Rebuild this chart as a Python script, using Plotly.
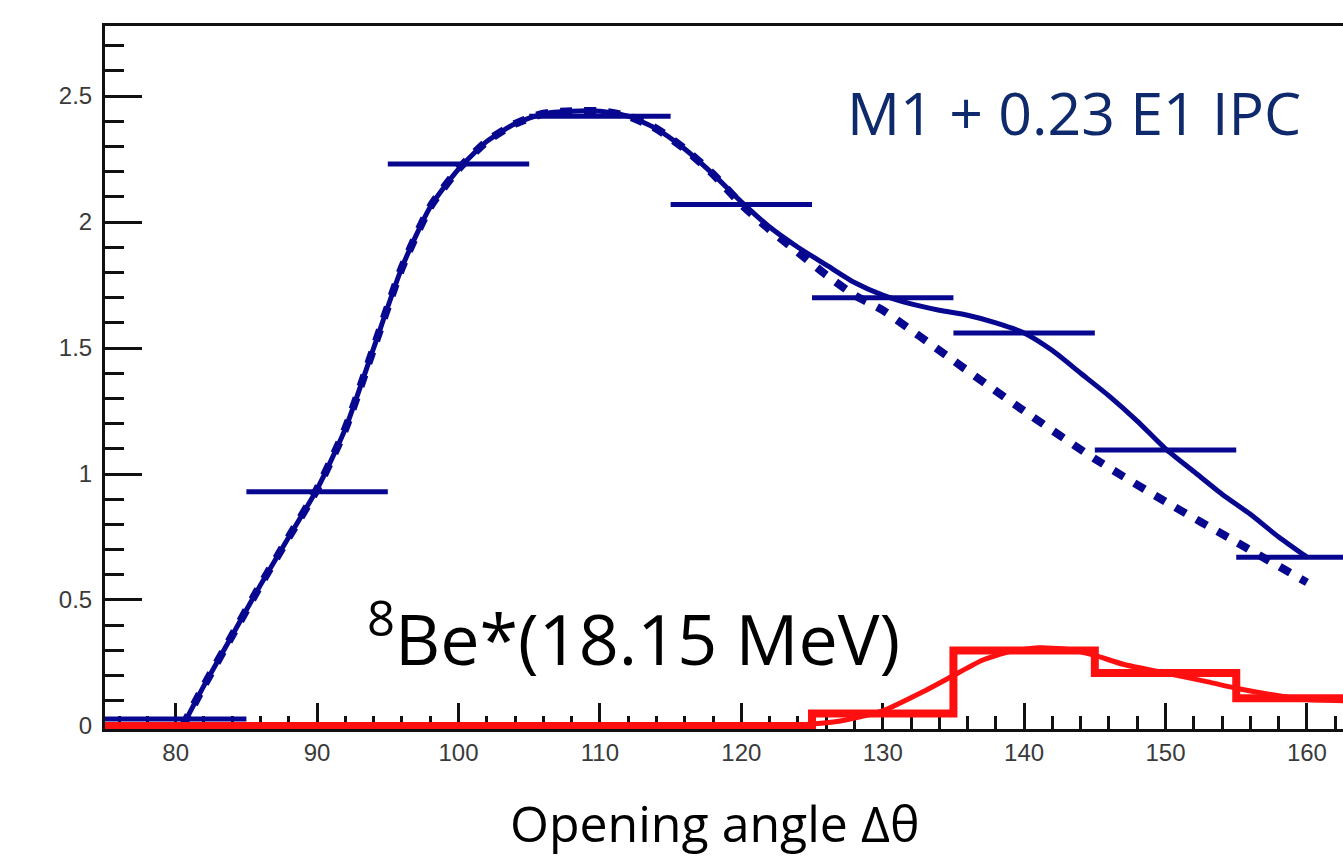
import plotly.graph_objects as go

# Opening-angle bins (degrees) and measured-style histograms
bin_centers = [80, 90, 100, 110, 120, 130, 140, 150, 160]
bin_half_width = 5
ipc_hist = [0.028, 0.93, 2.23, 2.42, 2.07, 1.70, 1.56, 1.095, 0.67]

# Signal histogram (8Be* 18.15 MeV), step edges
sig_edges = [75, 85, 95, 105, 115, 125, 135, 145, 155, 165]
sig_hist = [0.0, 0.0, 0.0, 0.0, 0.0, 0.05, 0.30, 0.21, 0.11]

# M1 + 0.23 E1 IPC simulation curve
ipc_x = [80.5, 82, 84, 86, 88, 90, 92, 94, 96, 98, 100, 102, 104, 106, 108, 110,
         112, 114, 116, 118, 120, 122, 124, 126, 128, 130, 132, 134, 136, 138,
         140, 142, 144, 146, 148, 150, 152, 154, 156, 158, 160]
ipc_y = [0.0, 0.16, 0.36, 0.56, 0.75, 0.94, 1.18, 1.50, 1.82, 2.06, 2.21, 2.32, 2.39,
         2.43, 2.44, 2.44, 2.42, 2.37, 2.29, 2.19, 2.08, 1.98, 1.90, 1.83, 1.76, 1.71,
         1.675, 1.65, 1.63, 1.60, 1.56, 1.49, 1.40, 1.31, 1.21, 1.10, 1.01, 0.92,
         0.84, 0.75, 0.67]

# Pure M1 curve (dashed)
m1_x = [80.5, 82, 84, 86, 88, 90, 92, 94, 96, 98, 100, 102, 104, 106, 108, 110,
        112, 114, 116, 118, 120, 122, 124, 126, 128, 130, 135, 140, 145, 150, 155, 160]
m1_y = [0.0, 0.16, 0.36, 0.56, 0.75, 0.94, 1.18, 1.50, 1.82, 2.06, 2.21, 2.32, 2.39,
        2.43, 2.44, 2.44, 2.42, 2.37, 2.29, 2.19, 2.07, 1.97, 1.88, 1.79, 1.71, 1.65,
        1.45, 1.25, 1.06, 0.89, 0.73, 0.57]

# Signal fit curve
sig_x = [75, 110, 122, 125, 127, 130, 133, 135, 137, 139, 141, 143, 145, 147, 150,
         153, 155, 158, 160, 163]
sig_y = [0.0, 0.0, 0.0, 0.008, 0.02, 0.06, 0.14, 0.20, 0.26, 0.295, 0.31, 0.305,
         0.28, 0.245, 0.21, 0.175, 0.15, 0.12, 0.105, 0.10]

BLUE = "#07078f"
RED = "#ff1010"

fig = go.Figure()

# IPC histogram drawn as horizontal bin bars
fig.add_trace(go.Scatter(
    x=bin_centers, y=ipc_hist, mode="markers",
    marker=dict(size=1, color=BLUE),
    error_x=dict(type="constant", value=bin_half_width, color=BLUE,
                 thickness=5, width=0),
    showlegend=False,
))

fig.add_trace(go.Scatter(
    x=m1_x, y=m1_y, mode="lines",
    line=dict(color=BLUE, width=8, dash="12px,12px", shape="spline", smoothing=0.6),
    showlegend=False,
))

fig.add_trace(go.Scatter(
    x=ipc_x, y=ipc_y, mode="lines",
    line=dict(color=BLUE, width=5, shape="spline", smoothing=0.6),
    showlegend=False,
))

# Signal histogram as a step line
fig.add_trace(go.Scatter(
    x=sig_edges, y=sig_hist + [sig_hist[-1]], mode="lines",
    line=dict(color=RED, width=8, shape="hv"),
    showlegend=False,
))

fig.add_trace(go.Scatter(
    x=sig_x, y=sig_y, mode="lines",
    line=dict(color=RED, width=5, shape="spline", smoothing=0.6),
    showlegend=False,
))

fig.add_annotation(
    x=143.5, y=2.437, xref="x", yref="y", text="M1 + 0.23 E1 IPC",
    showarrow=False, xanchor="center", yanchor="middle",
    font=dict(family="Open Sans", size=59, color="#0f2a6c"),
)
fig.add_annotation(
    x=112.4, y=0.36, xref="x", yref="y", text="<sup>8</sup>Be*(18.15 MeV)",
    showarrow=False, xanchor="center", yanchor="middle",
    font=dict(family="Open Sans", size=70, color="#000000"),
)
fig.add_annotation(
    x=0.492, y=0, xref="paper", yref="paper", yshift=-94,
    text="Opening angle Δθ", showarrow=False, xanchor="center", yanchor="middle",
    font=dict(family="Open Sans", size=50, color="#000000"),
)

tick_font = dict(family="Liberation Sans", size=24, color="#3a3a3a")

fig.update_xaxes(
    range=[75, 162.55], showgrid=False, zeroline=False,
    showline=True, linecolor="#111111", linewidth=3, mirror=True,
    ticks="inside", ticklen=26, tickwidth=3, tickcolor="#111111",
    tick0=0, dtick=10, tickfont=tick_font, ticklabelstandoff=0,
    minor=dict(ticks="inside", dtick=2, tick0=0, ticklen=13, tickwidth=2.5,
               tickcolor="#111111"),
    layer="below traces",
)
fig.update_yaxes(
    range=[-0.012, 2.778], showgrid=False, zeroline=False,
    showline=True, linecolor="#111111", linewidth=3,
    ticks="inside", ticklen=37, tickwidth=3, tickcolor="#111111",
    tick0=0, dtick=0.5, tickfont=tick_font, ticklabelstandoff=5,
    minor=dict(ticks="inside", dtick=0.1, tick0=0, ticklen=19, tickwidth=2.5,
               tickcolor="#111111"),
    layer="below traces",
)

fig.update_layout(
    width=1343, height=859,
    margin=dict(l=105, r=0, t=26, b=130),
    paper_bgcolor="white", plot_bgcolor="white",
    showlegend=False,
)

fig.write_html("out.html")
